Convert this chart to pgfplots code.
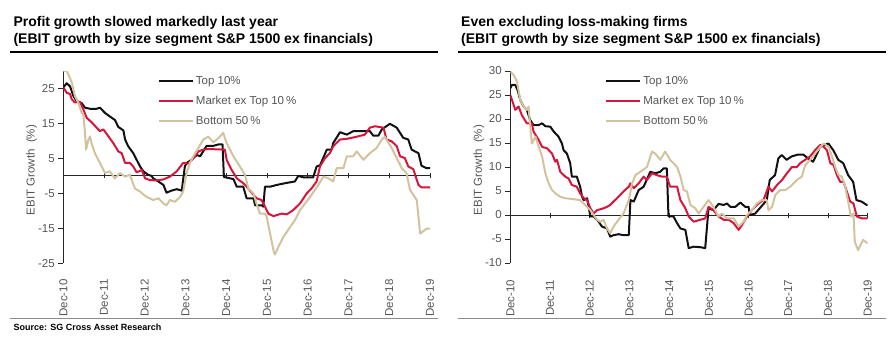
\documentclass[border=0pt]{standalone}
\usepackage{fontspec}
\setmainfont{Liberation Sans}
\usepackage{pgfplots}
\pgfplotsset{compat=1.18}
\definecolor{cblack}{RGB}{17,17,17}
\definecolor{cred}{RGB}{214,22,60}
\definecolor{ctan}{RGB}{210,195,158}
\definecolor{tgray}{RGB}{85,85,85}
\pgfplotsset{
 sgstyle/.style={
  scale only axis,
  axis y line=left, axis x line=middle,
  hide obscured x ticks=false,
  axis line style={-, line width=0.9pt, draw=black!85},
  xmin=0, xmax=108, enlargelimits=false, clip=true,
  xtick={0,12,...,108},
  xticklabels={Dec-10,Dec-11,Dec-12,Dec-13,Dec-14,Dec-15,Dec-16,Dec-17,Dec-18,Dec-19},
  tick style={line width=0.9pt, draw=black!85},
  xtick align=center, ytick align=outside,
  major tick length=5pt,
  /pgf/number format/assume math mode=true,
  tick label style={font=\fontsize{11.5}{13}\selectfont, text=tgray},
  ylabel={EBIT Growth~~(\%)},
  legend style={draw=none, fill=none, font=\fontsize{11.5}{13}\selectfont, text=tgray, row sep=6.5pt, inner sep=0pt, cells={anchor=west}},
  legend image code/.code={\draw[##1, line width=2.2pt] (0pt,0pt) -- (34pt,0pt);},
 },
 bl/.style={cblack, line width=2pt, line join=round},
 rd/.style={cred, line width=2pt, line join=round},
 tn/.style={ctan, line width=2pt, line join=round},
}
\begin{document}
\begin{tikzpicture}
\useasboundingbox (0,0) rectangle (894pt,343pt);
% titles
\node[anchor=base west, inner sep=0, font=\fontsize{14}{16}\selectfont\bfseries] at (13.3pt,316.3pt) {Profit growth slowed markedly last year};
\node[anchor=base west, inner sep=0, font=\fontsize{14}{16}\selectfont\bfseries] at (13.3pt,299.7pt) {(EBIT growth by size segment S\&P 1500 ex financials)};
\draw[line width=2pt] (10pt,291.3pt) -- (438pt,291.3pt);
\node[anchor=base west, inner sep=0, font=\fontsize{14}{16}\selectfont\bfseries] at (461pt,316.3pt) {Even excluding loss-making firms};
\node[anchor=base west, inner sep=0, font=\fontsize{14}{16}\selectfont\bfseries] at (461pt,299.7pt) {(EBIT growth by size segment S\&P 1500 ex financials)};
\draw[line width=2pt] (458pt,291.3pt) -- (886pt,291.3pt);
\draw[black!45, line width=0.7pt] (10pt,24.7pt) -- (438pt,24.7pt);
\draw[black!45, line width=0.7pt] (458pt,24.7pt) -- (886pt,24.7pt);
\node[anchor=base west, inner sep=0, font=\fontsize{9}{11}\selectfont\bfseries] at (13.3pt,13pt) {Source: SG Cross Asset Research};

% left chart
\begin{axis}[sgstyle, at={(63.3pt,79.7pt)}, anchor=south west, width=366.7pt, height=192.3pt,
  ymin=-25, ymax=30, ytick={-25,-15,-5,5,15,25},
  xticklabel style={yshift=-97.5pt, rotate=90, anchor=east},
  every axis y label/.style={at={(axis description cs:-0.086,0.485)}, rotate=90, anchor=center, font=\fontsize{11.5}{13}\selectfont, text=tgray},
  legend style={at={(axis description cs:0.257,0.985)}, anchor=north west}]
\addplot[bl] coordinates {(0,25.3)(1.0,26.5)(2.0,25.6)(2.9,23)(3.9,21.4)(5.4,20.8)(6.4,19.5)(7.9,19.2)(9.8,19.2)(10.8,19.5)(12.3,18)(13.7,17)(15.2,16)(16.2,14)(17.7,13)(18.2,10.4)(19.1,8.5)(20.6,6.5)(21.6,4.6)(22.6,2.7)(23.6,1.3)(25.0,0.3)(26.0,0)(26.5,-0.7)(28.0,-1.6)(29.5,-2.6)(30.4,-4.8)(31.9,-4.2)(33.4,-3.8)(34.9,-4.2)(35.3,-1)(35.8,2.7)(36.3,3.7)(37.8,4.6)(39.3,6)(40.3,5.6)(41.2,7)(42.2,8.6)(44.2,8.6)(45.7,9.0)(46.9,9.0)(47.3,-0.3)(49.1,-0.7)(50.1,-0.9)(51.1,-3.1)(53.0,-3.1)(54.0,-6.4)(56.0,-6.4)(56.5,-8.4)(58.4,-8.4)(58.9,-8.8)(59.4,-3.1)(60.9,-3.1)(62.8,-2.6)(65.8,-2.0)(68.2,-1.6)(69.2,0)(70.7,-0.4)(73.6,-0.4)(74.6,2.7)(75.6,3.0)(77.6,7.5)(79.0,7.5)(79.5,9.4)(81.5,12.5)(83.5,11.8)(85.4,12.8)(90.3,12.8)(91.3,11.5)(92.8,11.5)(93.8,13.3)(96.2,14.9)(98.2,13.8)(100.1,10.9)(101.6,10.4)(102.6,7.5)(104.6,6.5)(105.5,2.9)(107.0,2.2)(108,2.2)};
\addlegendentry{Top 10\%}
\addplot[rd] coordinates {(0,25.3)(1.0,23.8)(2.0,23.4)(2.5,21.9)(3.4,21)(4.9,21.2)(5.9,19)(6.9,16.6)(8.3,15.4)(9.8,13.8)(10.8,12.8)(11.8,13.3)(13.3,11.3)(14.7,9.4)(16.2,7)(17.2,6.5)(18.2,3.7)(19.6,3.7)(20.6,2.7)(21.6,1)(23.1,1.7)(24.1,-0.7)(25.5,-1.2)(27.5,-1.3)(29.5,-1)(31.4,-0.2)(33.4,1.3)(35.3,3.7)(36.8,3.5)(38.3,5.1)(39.8,7)(41.2,7.5)(42.7,7.7)(47.6,7.5)(48.1,4.6)(49.6,1.7)(51.1,-0.7)(53.0,-2.1)(54.0,-3.1)(55.5,-4.8)(56.9,-6.4)(58.4,-6.9)(59.4,-8.8)(60.4,-10.8)(61.9,-11.5)(64.3,-10.8)(65.8,-11)(67.7,-9.8)(69.7,-7.9)(71.7,-5)(73.1,-3.6)(74.6,-1.6)(75.6,2.7)(77.1,5.1)(78.5,6.5)(79.5,8.5)(81.5,10.4)(83.5,10.6)(86.4,11.2)(88.8,11.8)(90.3,13.8)(91.8,14.2)(94.3,13.8)(95.2,10.4)(96.7,9.9)(98.2,8.5)(99.2,5.6)(100.6,5.1)(101.6,2.7)(103.1,1.9)(104.6,-2.6)(105.5,-3.3)(108,-3.3)};
\addlegendentry{Market ex Top 10\,\%}
\addplot[tn] coordinates {(0,30)(1.0,30)(1.5,29)(2.5,26.7)(3.4,22.9)(4.4,21)(5.4,18)(5.9,17.6)(6.4,12.3)(6.7,7.5)(7.4,10.4)(7.9,11.3)(8.3,9.4)(9.3,6.5)(10.3,4.6)(11.3,2.7)(12.3,0.8)(13.7,1.3)(15.2,-0.7)(16.7,0.8)(18.2,-0.2)(19.6,0.3)(21.1,-3.6)(22.6,-4.5)(24.5,-6)(26.5,-6.9)(28.0,-6.4)(29.5,-7.9)(30.4,-8.4)(31.4,-6.9)(32.9,-7.4)(34.4,-6)(35.3,-4.5)(36.3,0.8)(37.3,3.7)(38.3,5.6)(39.8,8)(41.2,10.4)(42.7,11.2)(44.2,9.6)(45.7,10.8)(47.1,12.3)(48.1,9.4)(50.1,5.6)(52.0,2.7)(53.5,0.3)(54.5,-3.6)(56.0,-5)(56.9,-7.9)(57.9,-10.8)(59.4,-10.8)(59.9,-11.7)(60.9,-16.5)(61.9,-21.3)(62.3,-22.5)(63.3,-20.4)(64.8,-17.5)(66.8,-14.6)(68.2,-12.7)(69.7,-9.8)(71.2,-7.9)(72.7,-6)(74.1,-4)(75.1,-2.6)(76.6,-0.2)(78.1,-0.7)(79.5,-1.6)(80.5,2.2)(82.5,2.2)(83.5,5.6)(85.4,5.6)(86.4,7)(88.4,4.6)(90.3,6.5)(92.3,8)(93.8,10.4)(94.7,11.2)(96.7,8)(98.2,5.1)(99.7,2.2)(101.1,0.8)(102.1,-4)(104.1,-6.9)(105.1,-16.5)(107.0,-15.1)(108,-15.1)};
\addlegendentry{Bottom 50\,\%}
\end{axis}

% right chart
\begin{axis}[sgstyle, at={(510.3pt,80pt)}, anchor=south west, width=357.4pt, height=192pt,
  ymin=-10, ymax=30, ytick={-10,-5,...,30},
  xticklabel style={yshift=-58.6pt, rotate=90, anchor=east},
  every axis y label/.style={at={(axis description cs:-0.088,0.484)}, rotate=90, anchor=center, font=\fontsize{11.5}{13}\selectfont, text=tgray},
  legend style={at={(axis description cs:0.265,0.985)}, anchor=north west}]
\addplot[bl] coordinates {(0,26.4)(0.5,27.1)(1.5,27.1)(2.2,26)(3.0,24)(4.0,22.6)(5.0,21.9)(6.0,19.8)(7.0,18.75)(8.6,18.75)(9.6,19.1)(10.6,18.5)(12.1,18.4)(13.1,17.4)(14.6,16.3)(15.6,14.9)(16.1,13.5)(17.1,12.8)(18.1,10.8)(18.6,8)(20.1,8)(21.1,5.9)(21.7,3.8)(22.2,3.1)(23.2,3.5)(24.2,-0.3)(25.2,-0.3)(26.7,-1.4)(27.7,-2.4)(29.2,-2.8)(30.2,-4.5)(31.2,-4.2)(32.7,-4)(34.2,-4.2)(35.8,-4.2)(36.3,3.1)(37.3,2.8)(38.8,5.2)(40.3,5.9)(42.3,9)(43.8,8.7)(45.3,9)(46.3,9.7)(47.3,9.7)(47.8,-0.3)(49.3,-0.3)(50.4,-1.7)(51.4,-2.8)(52.9,-3.1)(53.9,-6.9)(55.4,-6.6)(57.4,-6.7)(58.9,-6.9)(59.9,1.4)(61.4,1)(62.9,2.3)(64.5,2.1)(65.5,2.4)(66.5,1.7)(68.0,1.7)(69.5,2.6)(71.0,1.7)(72.0,1.7)(72.4,0)(74.0,0.3)(75.5,1.5)(77.5,3.1)(78.4,7.3)(80.0,8.3)(81.0,11.8)(82.0,12.5)(83.5,11.5)(85.0,12.2)(87.0,12.6)(88.5,12.6)(90.0,11.8)(91.5,11.1)(92.5,12.5)(93.6,14.2)(96.1,14.9)(97.6,13.5)(99.1,11.5)(100.6,10.8)(102.1,8.3)(103.6,6.9)(104.6,3.1)(106.1,2.8)(107.7,2.1)(108,2.1)};
\addlegendentry{Top 10\%}
\addplot[rd] coordinates {(0,25)(0.5,24)(1.5,21.9)(2.5,22.6)(3.5,20.8)(5.0,19.1)(6.5,19.1)(7.0,17.4)(8.6,15.6)(9.6,14.2)(11.1,13.9)(12.6,12.8)(13.6,11.1)(14.1,11.5)(15.1,9)(16.6,8)(17.6,7.6)(18.6,6.25)(20.1,5.9)(21.1,4.5)(22.2,3.5)(23.2,3.1)(24.2,1.4)(25.2,0.3)(26.2,1)(28.2,1.4)(29.2,1.7)(30.2,2.1)(31.2,2.8)(32.7,3.8)(34.2,4.9)(35.8,5.9)(36.3,6.6)(37.3,5.6)(38.8,6.6)(40.3,8)(41.3,7.3)(42.8,8.7)(44.3,8.3)(45.8,8)(47.3,8)(48.3,5.9)(50.4,5.9)(51.4,3.1)(52.9,1.4)(53.9,-0.3)(55.4,-1.4)(57.4,-1)(58.9,-0.7)(59.9,1.7)(61.4,1)(62.9,-0.3)(64.5,-1)(66.0,-1)(67.5,-1.7)(69.0,-3.1)(70.0,-2.1)(71.5,-0.3)(73.0,1)(75.0,2.4)(76.5,3.1)(78.0,5.9)(79.1,4.9)(80.6,6.25)(82.1,7.3)(83.6,8.7)(85.1,10)(86.6,10)(87.6,10.8)(89.1,11.5)(90.6,12.2)(92.1,13.5)(93.7,14.6)(94.7,14.2)(95.7,13.5)(96.7,10.8)(97.7,10.4)(98.7,8.3)(99.7,6.9)(100.7,6.9)(101.7,4.9)(102.7,2.8)(103.7,2.4)(104.7,-0.3)(106.2,-0.7)(108,-0.7)};
\addlegendentry{Market ex Top 10\,\%}
\addplot[tn] coordinates {(0,29.9)(1.0,29.2)(2.0,27.8)(3.0,24)(4.0,22.6)(5.0,21.9)(5.5,22.6)(6.5,14.9)(7.6,16.3)(8.6,14.2)(9.6,12.2)(10.6,8.7)(11.6,6.6)(12.6,5.2)(13.6,4.5)(15.1,3.8)(16.6,3.5)(19.1,3.3)(21.1,3.1)(22.2,2.4)(23.2,1.7)(24.2,1)(25.2,0)(26.2,-1)(27.2,-1.4)(28.2,-1)(29.2,-2.8)(30.2,-3.8)(31.2,-2.4)(32.7,-1)(34.2,0.3)(35.8,3.1)(36.8,6.6)(37.8,8.3)(39.3,9)(41.3,10)(42.8,13.2)(43.8,12.8)(45.3,11.5)(46.8,13.2)(48.3,11.5)(50.4,10)(51.4,8)(52.4,5.2)(53.4,4.9)(54.4,2.1)(55.9,1.4)(56.9,0.3)(58.4,1.7)(59.9,3.1)(61.4,1.7)(62.9,-0.3)(63.9,0.3)(65.5,-0.7)(67.5,-0.7)(69.0,-2.4)(70.5,-1.4)(71.5,0)(73.0,1)(74.5,2.4)(76.0,3.1)(77.5,3.1)(78.0,1)(79.1,1.7)(80.1,4.2)(81.6,5.2)(83.1,5.2)(84.6,5.9)(85.6,6.6)(86.6,7.3)(88.1,8)(89.1,10.4)(90.6,11.5)(92.1,12.8)(93.7,14.2)(94.7,14.9)(96.2,14.2)(97.2,12.2)(98.2,10)(99.2,8.3)(100.2,8)(101.2,5.9)(102.2,2.4)(102.9,-0.3)(103.7,0.3)(104.1,-5.6)(105.1,-7.3)(106.6,-5.2)(108,-5.9)};
\addlegendentry{Bottom 50\,\%}
\end{axis}
\end{tikzpicture}
\end{document}
